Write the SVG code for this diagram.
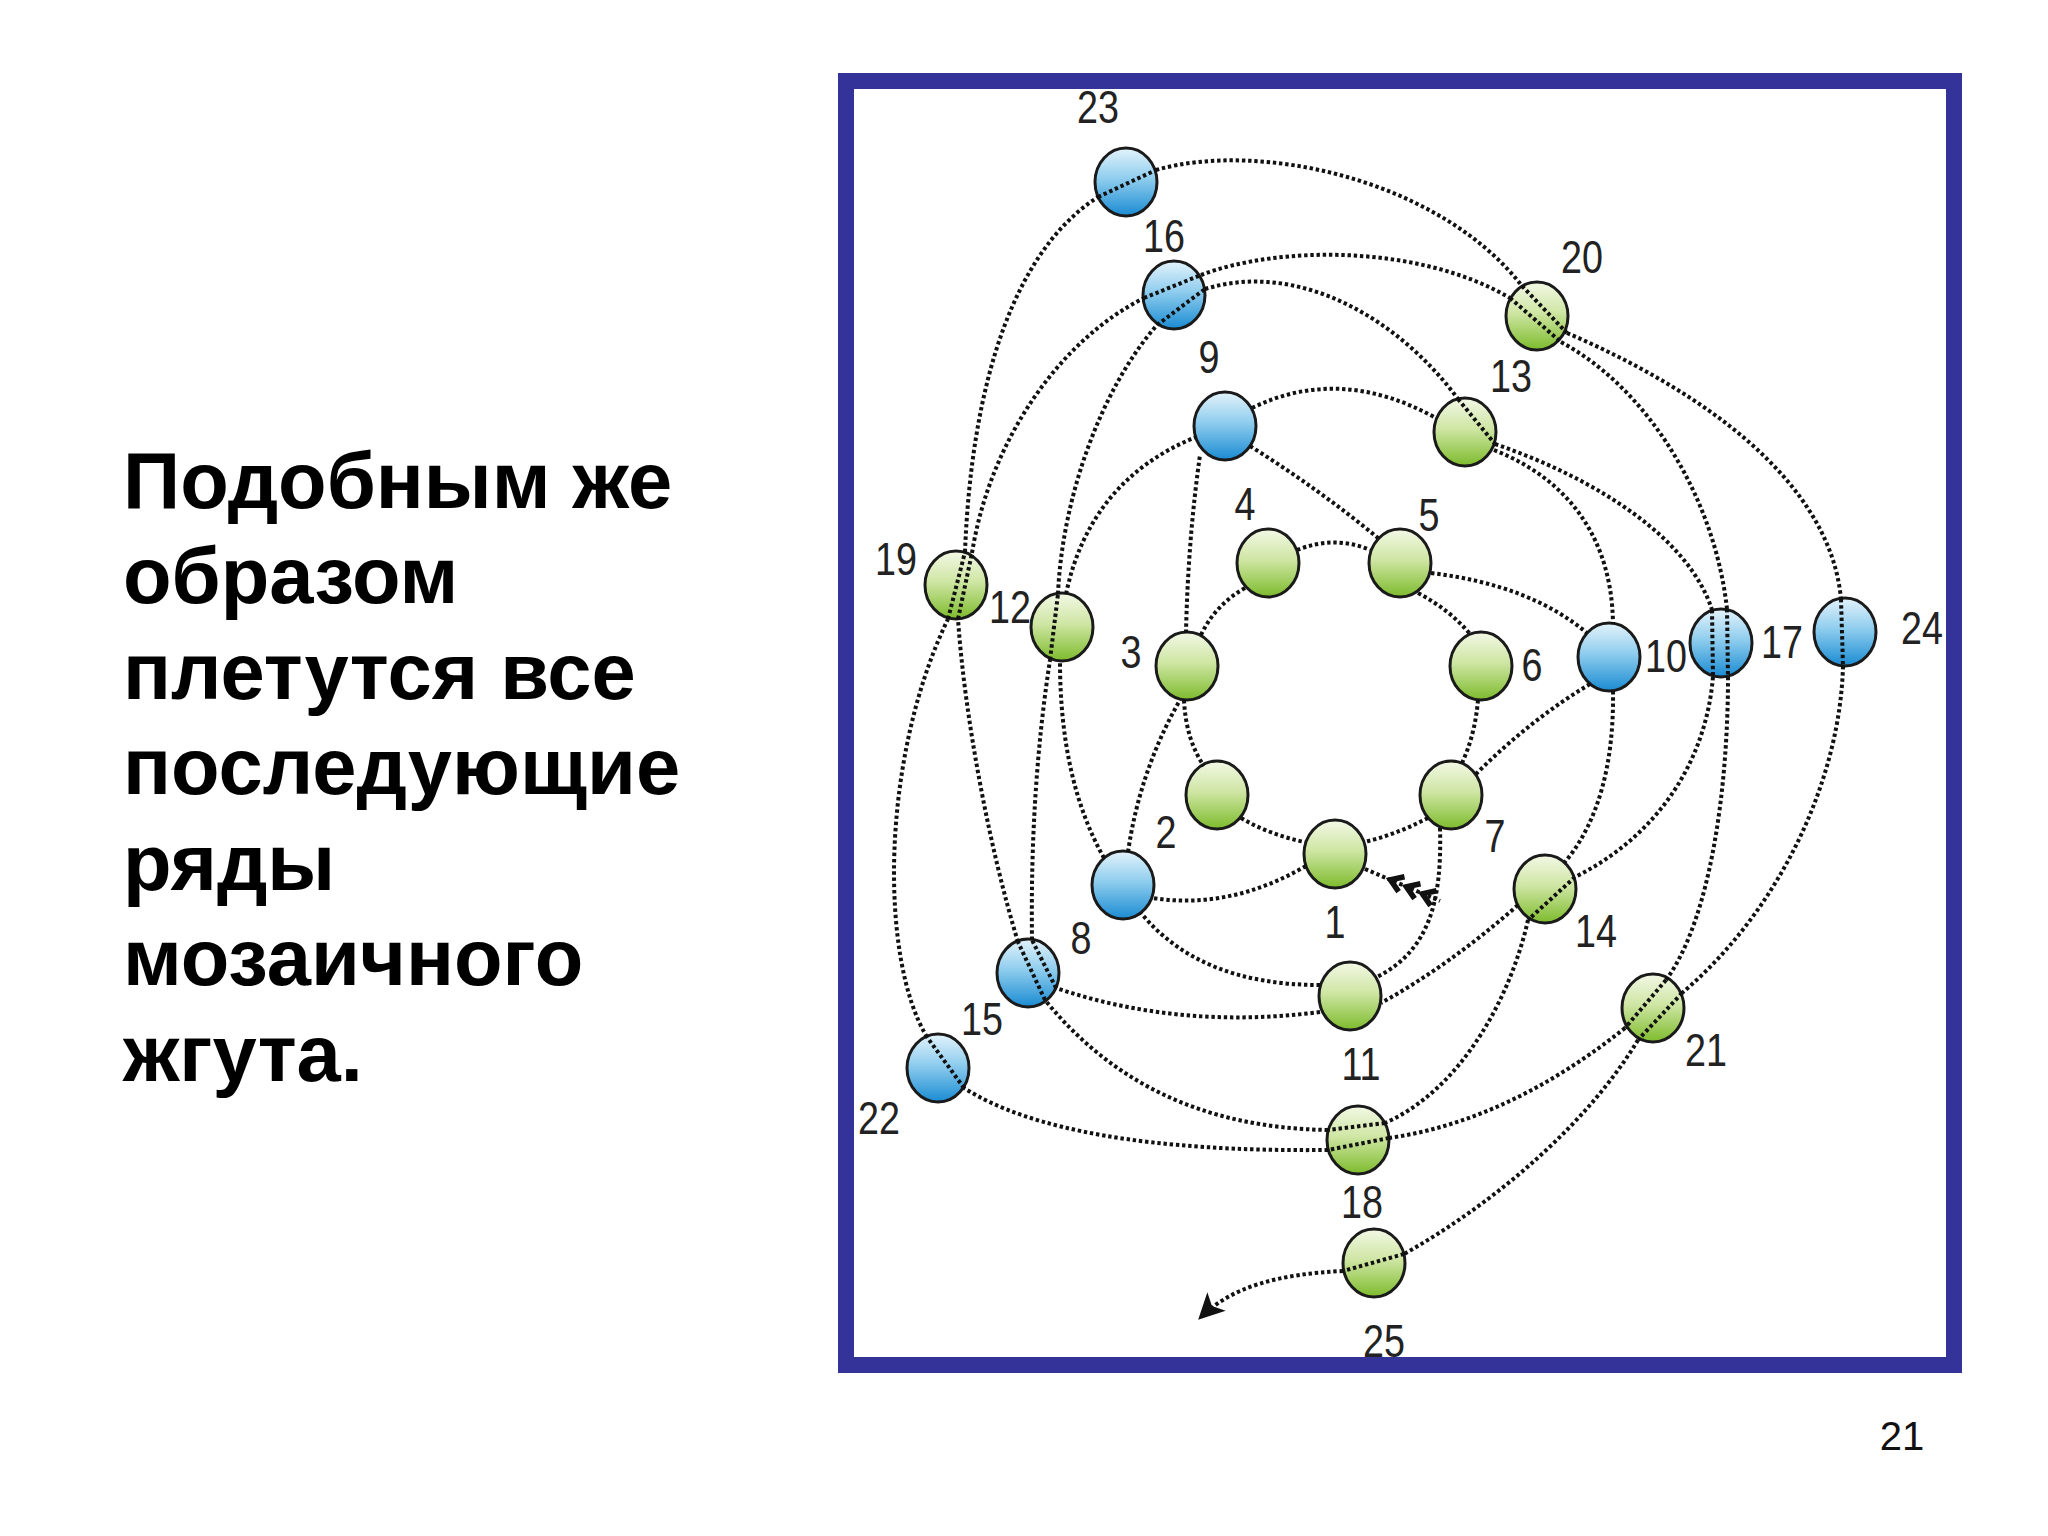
<svg xmlns="http://www.w3.org/2000/svg" width="2048" height="1536" viewBox="0 0 2048 1536">
<defs>
<linearGradient id="gG" x1="0" y1="0" x2="0" y2="1">
<stop offset="0" stop-color="#f3f8e6"/>
<stop offset="0.45" stop-color="#cfe6a4"/>
<stop offset="1" stop-color="#7dbb2c"/>
</linearGradient>
<linearGradient id="gB" x1="0" y1="0" x2="0" y2="1">
<stop offset="0" stop-color="#e4f3fb"/>
<stop offset="0.45" stop-color="#8fcdee"/>
<stop offset="1" stop-color="#1a8bd2"/>
</linearGradient>
<marker id="arr" viewBox="0 0 10 10" refX="9" refY="5" markerUnits="userSpaceOnUse" markerWidth="26" markerHeight="26" orient="auto">
<path d="M0,0 L10,5 L0,10 L2.5,5 z" fill="#111"/>
</marker>
</defs>
<style>
.g{fill:url(#gG);stroke:#1a1a1a;stroke-width:3}
.b{fill:url(#gB);stroke:#1a1a1a;stroke-width:3}
.lb{font-family:"Liberation Sans",Arial,sans-serif;font-size:46px;fill:#222;text-anchor:middle}
.th{fill:none;stroke:#111;stroke-width:4;stroke-dasharray:3.4 2.8}
.ch{fill:none;stroke:#111;stroke-width:5.5;stroke-linejoin:miter}
.txt{font-family:"Liberation Sans",Arial,sans-serif;font-size:79.5px;font-weight:bold;fill:#000}
</style>
<rect x="0" y="0" width="2048" height="1536" fill="#ffffff"/>

<g id="caption">
<text class="txt" x="123" y="508">Подобным же</text>
<text class="txt" x="123" y="603">образом</text>
<text class="txt" x="123" y="699">плетутся все</text>
<text class="txt" x="123" y="794">последующие</text>
<text class="txt" x="123" y="890">ряды</text>
<text class="txt" x="123" y="985">мозаичного</text>
<text class="txt" x="123" y="1081">жгута.</text>
</g>
<g id="page-number"><text x="1902" y="1450" style="font-family:'Liberation Sans',Arial,sans-serif;font-size:40px;fill:#111;text-anchor:middle">21</text></g>

<g id="n1"><ellipse class="g" cx="1335" cy="854" rx="31" ry="34"/><text class="lb" transform="translate(1335,938) scale(0.82 1)">1</text></g>
<g id="n2"><ellipse class="g" cx="1217" cy="795" rx="31" ry="34"/><text class="lb" transform="translate(1166,848) scale(0.82 1)">2</text></g>
<g id="n3"><ellipse class="g" cx="1187" cy="666" rx="31" ry="34"/><text class="lb" transform="translate(1131,668) scale(0.82 1)">3</text></g>
<g id="n4"><ellipse class="g" cx="1268" cy="563" rx="31" ry="34"/><text class="lb" transform="translate(1245,520) scale(0.82 1)">4</text></g>
<g id="n5"><ellipse class="g" cx="1400" cy="563" rx="31" ry="34"/><text class="lb" transform="translate(1429,531) scale(0.82 1)">5</text></g>
<g id="n6"><ellipse class="g" cx="1481" cy="666" rx="31" ry="34"/><text class="lb" transform="translate(1532,681) scale(0.82 1)">6</text></g>
<g id="n7"><ellipse class="g" cx="1451" cy="795" rx="31" ry="34"/><text class="lb" transform="translate(1495,852) scale(0.82 1)">7</text></g>
<g id="n8"><ellipse class="b" cx="1123" cy="885" rx="31" ry="34"/><text class="lb" transform="translate(1081,954) scale(0.82 1)">8</text></g>
<g id="n9"><ellipse class="b" cx="1225" cy="426" rx="31" ry="34"/><text class="lb" transform="translate(1209,373) scale(0.82 1)">9</text></g>
<g id="n10"><ellipse class="b" cx="1609" cy="657" rx="31" ry="34"/><text class="lb" transform="translate(1666,672) scale(0.82 1)">10</text></g>
<g id="n11"><ellipse class="g" cx="1350" cy="996" rx="31" ry="34"/><text class="lb" transform="translate(1361,1080) scale(0.82 1)">11</text></g>
<g id="n12"><ellipse class="g" cx="1062" cy="627" rx="31" ry="34"/><text class="lb" transform="translate(1010,623) scale(0.82 1)">12</text></g>
<g id="n13"><ellipse class="g" cx="1465" cy="432" rx="31" ry="34"/><text class="lb" transform="translate(1511,392) scale(0.82 1)">13</text></g>
<g id="n14"><ellipse class="g" cx="1545" cy="889" rx="31" ry="34"/><text class="lb" transform="translate(1596,947) scale(0.82 1)">14</text></g>
<g id="n15"><ellipse class="b" cx="1028" cy="973" rx="31" ry="34"/><text class="lb" transform="translate(982,1035) scale(0.82 1)">15</text></g>
<g id="n16"><ellipse class="b" cx="1174" cy="295" rx="31" ry="34"/><text class="lb" transform="translate(1164,252) scale(0.82 1)">16</text></g>
<g id="n17"><ellipse class="b" cx="1721" cy="643" rx="31" ry="34"/><text class="lb" transform="translate(1782,658) scale(0.82 1)">17</text></g>
<g id="n18"><ellipse class="g" cx="1358" cy="1140" rx="31" ry="34"/><text class="lb" transform="translate(1362,1218) scale(0.82 1)">18</text></g>
<g id="n19"><ellipse class="g" cx="956" cy="585" rx="31" ry="34"/><text class="lb" transform="translate(896,575) scale(0.82 1)">19</text></g>
<g id="n20"><ellipse class="g" cx="1537" cy="316" rx="31" ry="34"/><text class="lb" transform="translate(1582,273) scale(0.82 1)">20</text></g>
<g id="n21"><ellipse class="g" cx="1653" cy="1008" rx="31" ry="34"/><text class="lb" transform="translate(1706,1066) scale(0.82 1)">21</text></g>
<g id="n22"><ellipse class="b" cx="938" cy="1068" rx="31" ry="34"/><text class="lb" transform="translate(879,1134) scale(0.82 1)">22</text></g>
<g id="n23"><ellipse class="b" cx="1126" cy="182" rx="31" ry="34"/><text class="lb" transform="translate(1098,123) scale(0.82 1)">23</text></g>
<g id="n24"><ellipse class="b" cx="1845" cy="632" rx="31" ry="34"/><text class="lb" transform="translate(1922,644) scale(0.82 1)">24</text></g>
<g id="n25"><ellipse class="g" cx="1374" cy="1263" rx="31" ry="34"/><text class="lb" transform="translate(1384,1357) scale(0.82 1)">25</text></g>

<g id="connectors">
<path class="th" d="M1241,818 Q1270,835 1305,842"/>
<path class="th" d="M1184,700 Q1186,740 1204,766"/>
<path class="th" d="M1201,635 Q1215,605 1245,588"/>
<path class="th" d="M1297,550 Q1335,535 1370,550"/>
<path class="th" d="M1418,593 Q1450,610 1470,634"/>
<path class="th" d="M1478,700 Q1475,735 1462,763"/>
<path class="th" d="M1428,818 Q1395,835 1364,842"/>
<path class="th" d="M1365,869 L1440,901"/>
<path class="ch" d="M1404.5,876.8 L1390.4,879.8 L1398.6,891.6"/>
<path class="ch" d="M1420.5,883.8 L1406.4,886.8 L1414.6,898.6"/>
<path class="ch" d="M1436.5,890.8 L1422.4,893.8 L1430.6,905.6"/>
<path class="th" d="M1306,866 Q1230,910 1153,898"/>
<path class="th" d="M1128,852 Q1140,770 1180,700"/>
<path class="th" d="M1186,633 Q1188,540 1200,455"/>
<path class="th" d="M1250,446 Q1320,490 1378,538"/>
<path class="th" d="M1431,573 Q1530,585 1587,633"/>
<path class="th" d="M1590,684 Q1530,720 1476,774"/>
<path class="th" d="M1440,828 C1442,900 1430,950 1377,977"/>
<path class="th" d="M1320,985 Q1200,985 1141,913"/>
<path class="th" d="M1104,858 Q1060,780 1060,661"/>
<path class="th" d="M1066,594 Q1090,480 1196,437"/>
<path class="th" d="M1252,408 Q1340,365 1436,418"/>
<path class="th" d="M1494,450 C1570,480 1612,540 1613,624"/>
<path class="th" d="M1613,691 C1614,760 1600,820 1565,862"/>
<path class="th" d="M1518,905 Q1450,965 1381,1003"/>
<path class="th" d="M1320,1012 Q1180,1030 1056,988"/>
<path class="th" d="M1056,988 L1032,940"/>
<path class="th" d="M1032,940 Q1030,790 1050,660"/>
<path class="th" d="M1050,660 L1058,594"/>
<path class="th" d="M1058,594 C1062,500 1100,390 1157,325"/>
<path class="th" d="M1157,325 L1205,289"/>
<path class="th" d="M1205,289 C1300,260 1400,320 1458,399"/>
<path class="th" d="M1458,399 L1495,444"/>
<path class="th" d="M1495,444 C1600,480 1690,540 1712,610"/>
<path class="th" d="M1712,610 L1713,677"/>
<path class="th" d="M1713,677 C1705,770 1650,840 1575,877"/>
<path class="th" d="M1575,877 L1528,920"/>
<path class="th" d="M1528,920 C1510,1000 1460,1090 1385,1123"/>
<path class="th" d="M1385,1123 L1328,1130"/>
<path class="th" d="M1328,1130 C1200,1128 1110,1080 1045,1000"/>
<path class="th" d="M1045,1000 L1018,942"/>
<path class="th" d="M1018,942 C990,850 965,720 958,619"/>
<path class="th" d="M958,619 L972,553"/>
<path class="th" d="M972,553 C990,440 1060,340 1144,298"/>
<path class="th" d="M1144,298 L1201,275"/>
<path class="th" d="M1201,275 C1280,245 1420,245 1510,298"/>
<path class="th" d="M1510,298 L1561,342"/>
<path class="th" d="M1561,342 C1650,390 1715,500 1727,609"/>
<path class="th" d="M1727,609 L1728,677"/>
<path class="th" d="M1728,677 C1728,790 1710,920 1666,980"/>
<path class="th" d="M1666,980 L1625,1028"/>
<path class="th" d="M1625,1028 C1560,1080 1480,1125 1389,1138"/>
<path class="th" d="M1389,1138 L1328,1150"/>
<path class="th" d="M1328,1150 C1150,1152 1030,1130 964,1088"/>
<path class="th" d="M964,1088 L927,1037"/>
<path class="th" d="M927,1037 C880,960 880,760 948,619"/>
<path class="th" d="M948,619 L965,552"/>
<path class="th" d="M965,552 C970,420 1000,260 1098,197"/>
<path class="th" d="M1098,197 L1156,170"/>
<path class="th" d="M1156,170 C1260,140 1440,180 1522,286"/>
<path class="th" d="M1522,286 L1567,333"/>
<path class="th" d="M1567,333 C1700,390 1830,480 1841,599"/>
<path class="th" d="M1841,599 L1843,666"/>
<path class="th" d="M1843,666 C1840,780 1780,910 1682,993"/>
<path class="th" d="M1682,993 L1638,1040"/>
<path class="th" d="M1638,1040 C1590,1120 1500,1200 1404,1254"/>
<path class="th" d="M1404,1254 L1343,1271"/>
<path class="th" d="M1343,1271 C1280,1274 1232,1286 1200,1318" marker-end="url(#arr)"/>
</g>

<g id="frame">
<rect x="846" y="81" width="1108" height="1284" fill="none" stroke="#333399" stroke-width="16"/>
</g>
</svg>
